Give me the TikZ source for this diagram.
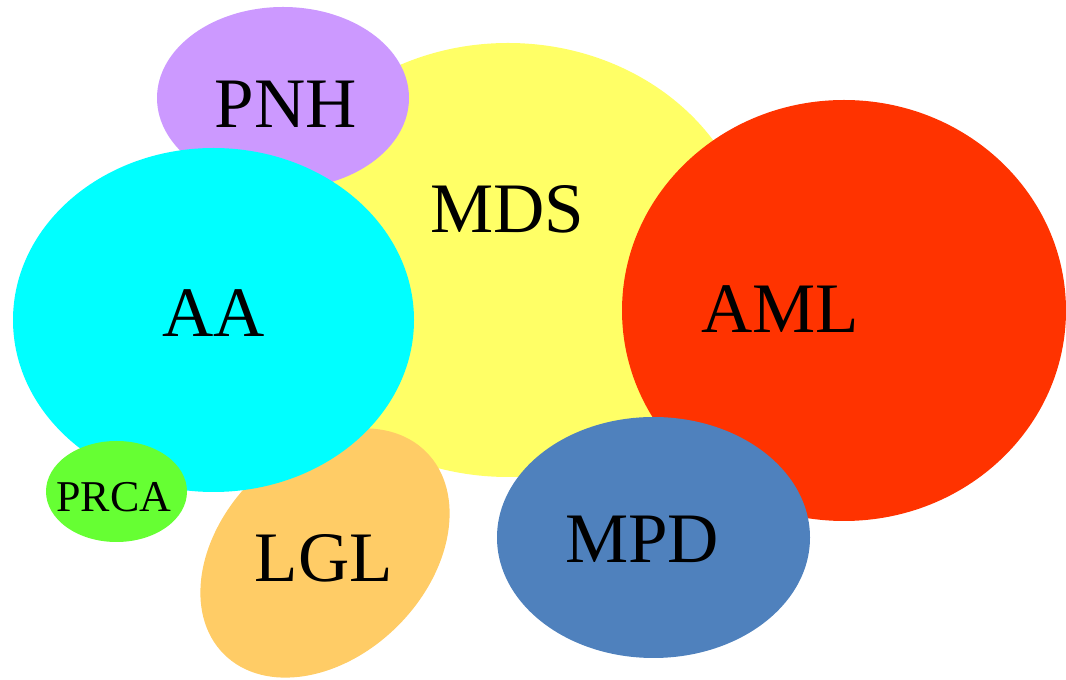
\documentclass[tikz,border=0pt]{standalone}
\usepackage{fontspec}
\setmainfont{Liberation Serif}
\definecolor{mdsc}{HTML}{FFFF66}
\definecolor{pnhc}{HTML}{CC99FF}
\definecolor{lglc}{HTML}{FFCC66}
\definecolor{aac}{HTML}{00FFFF}
\definecolor{prcac}{HTML}{66FF33}
\definecolor{amlc}{HTML}{FF3300}
\definecolor{mpdc}{HTML}{4F81BD}
\tikzset{
  lbl/.style={anchor=base, inner sep=0pt, font=\fontsize{71}{80}\selectfont},
  smalllbl/.style={anchor=base, inner sep=0pt, font=\fontsize{44}{50}\selectfont}
}
\begin{document}
\begin{tikzpicture}[x=1pt,y=1pt]
\useasboundingbox (0,0) rectangle (1066,680);
% ellipses in stacking order
\fill[mdsc] (508,420) ellipse [x radius=246pt, y radius=217pt];
\fill[pnhc] (283,582) ellipse [x radius=126pt, y radius=91pt];
\fill[lglc, rotate around={45:(325,127)}] (325,127) ellipse [x radius=143pt, y radius=103pt];
\fill[aac] (213.5,360) ellipse [x radius=200.5pt, y radius=172pt];
\fill[prcac] (116.5,188.5) ellipse [x radius=70.5pt, y radius=50.5pt];
\fill[amlc] (844,369.5) ellipse [x radius=222pt, y radius=210.5pt];
\fill[mpdc] (653.5,142.5) ellipse [x radius=156.5pt, y radius=120.5pt];
% labels
\node[lbl] (pnh) at (286,552) {PNH};
\node[lbl] (mds) at (507,447) {MDS};
\node[lbl] (aa) at (214,343) {AA};
\node[lbl] (aml) at (780,347) {AML};
\node[smalllbl] (prca) at (114,168) {PRCA};
\node[lbl] (lgl) at (324,98) {LGL};
\node[lbl] (mpd) at (642,117) {MPD};
\end{tikzpicture}
\end{document}
